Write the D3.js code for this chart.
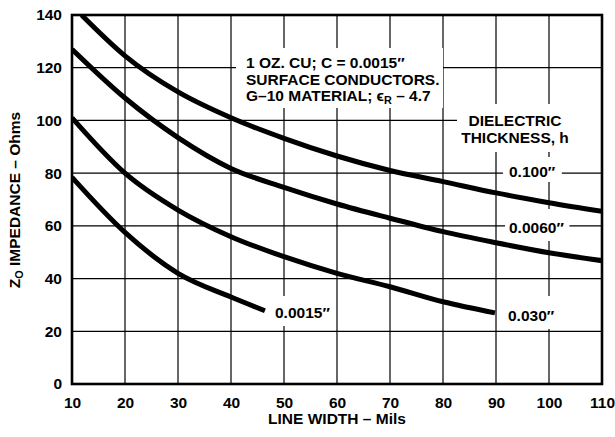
<!DOCTYPE html>
<html>
<head>
<meta charset="utf-8">
<script src="https://cdn.jsdelivr.net/npm/d3@7"></script>
<style>
  html, body { margin: 0; padding: 0; background: #fff; }
  svg { display: block; }
  text { font-family: "Liberation Sans", Arial, Helvetica, sans-serif; font-weight: bold; fill: #000; }
</style>
</head>
<body>
<svg id="chart" width="615" height="437"></svg>
<script>
// ---- data ----
const xTicks = [10, 20, 30, 40, 50, 60, 70, 80, 90, 100, 110];
const yTicks = [0, 20, 40, 60, 80, 100, 120, 140];

const h100X = [11.8, 20, 30, 40, 50, 60, 70, 80, 90, 100, 110];
const h100Y = [140, 124.5, 110.8, 101, 93.2, 86.5, 81, 76.8, 72.5, 68.8, 65.5];

const h0060X = [10, 20, 30, 40, 50, 60, 70, 80, 90, 100, 110];
const h0060Y = [127, 108.5, 93.5, 81.8, 74.6, 68.3, 62.9, 57.8, 53.6, 49.8, 46.8];

const h030X = [10, 20, 30, 40, 50, 60, 70, 80, 89.8];
const h030Y = [101, 80, 66, 55.9, 48.3, 42, 36.9, 31.2, 27];

const h0015X = [10, 20, 30, 40, 46.4];
const h0015Y = [78.4, 57.5, 42, 33, 27.8];

const seriesNames = ["0.100\u2033", "0.0060\u2033", "0.030\u2033", "0.0015\u2033"];

// ---- layout ----
(function () {
const svg = d3.select("#chart");
const pL = 72, pR = 602, pT = 15, pB = 384;
const x = d3.scaleLinear().domain([10, 110]).range([pL, pR]);
const y = d3.scaleLinear().domain([0, 140]).range([pB, pT]);
const FS = 15.5;
const LH = 16.5;

svg.append("clipPath").attr("id", "plotclip")
  .append("rect").attr("x", pL).attr("y", pT).attr("width", pR - pL).attr("height", pB - pT);

// gridlines
const grid = svg.append("g");
grid.selectAll("line.v").data(xTicks).join("line").attr("class", "v")
  .attr("x1", d => x(d)).attr("x2", d => x(d))
  .attr("y1", pT).attr("y2", pB)
  .attr("stroke", "#000").attr("stroke-width", 1.2);
grid.selectAll("line.h").data(yTicks).join("line").attr("class", "h")
  .attr("x1", pL).attr("x2", pR)
  .attr("y1", d => y(d)).attr("y2", d => y(d))
  .attr("stroke", "#000").attr("stroke-width", 1.2);

const boxes = svg.append("g");
const labels = svg.append("g");

function label(text, xPos, yPos, pad) {
  const t = labels.append("text").attr("font-size", FS)
    .attr("x", xPos).attr("y", yPos).text(text);
  const bb = t.node().getBBox();
  boxes.append("rect")
    .attr("x", bb.x - pad[3]).attr("y", bb.y - pad[0])
    .attr("width", bb.width + pad[1] + pad[3]).attr("height", bb.height + pad[0] + pad[2])
    .attr("fill", "#fff");
}

// main note
(function () {
  const g = labels.append("g").attr("font-size", FS);
  g.append("text").attr("x", 246).attr("y", 68).text("1 OZ. CU; C = 0.0015\u2033");
  g.append("text").attr("x", 246).attr("y", 68 + LH).text("SURFACE CONDUCTORS.");
  const t3 = g.append("text").attr("x", 246).attr("y", 68 + 2 * LH);
  t3.append("tspan").text("G\u201310 MATERIAL; \u03F5");
  t3.append("tspan").attr("font-size", FS * 0.7).attr("dy", 3).text("R");
  t3.append("tspan").attr("dy", -3).text(" \u2013 4.7");
  boxes.append("rect").attr("x", 236).attr("y", 48).attr("width", 207).attr("height", 60).attr("fill", "#fff");
})();

// dielectric heading
(function () {
  const g = labels.append("g").attr("font-size", FS).attr("text-anchor", "middle");
  g.append("text").attr("x", 515).attr("y", 126).text("DIELECTRIC");
  g.append("text").attr("x", 515).attr("y", 126 + LH).text("THICKNESS, h");
  boxes.append("rect").attr("x", 457).attr("y", 104).attr("width", pR - 457).attr("height", 48).attr("fill", "#fff");
})();

label(seriesNames[0], 509, 177, [6, 6, 2, 6]);
label(seriesNames[1], 509, 233, [10, 5, 5, 4]);
label(seriesNames[2], 508, 321, [11, 6, 5, 6]);
label(seriesNames[3], 275, 318, [8, 5, 5, 5]);

// curves
const lineGen = d3.line().x(d => x(d[0])).y(d => y(d[1])).curve(d3.curveMonotoneX);
const series = [
  d3.zip(h100X, h100Y),
  d3.zip(h0060X, h0060Y),
  d3.zip(h030X, h030Y),
  d3.zip(h0015X, h0015Y)
];
svg.append("g").attr("clip-path", "url(#plotclip)")
  .selectAll("path").data(series).join("path")
  .attr("d", lineGen)
  .attr("fill", "none").attr("stroke", "#000").attr("stroke-width", 5)
  .attr("stroke-linecap", "butt");

labels.raise();

// frame
svg.append("rect").attr("x", pL).attr("y", pT)
  .attr("width", pR - pL).attr("height", pB - pT)
  .attr("fill", "none").attr("stroke", "#000").attr("stroke-width", 2.6);

// axes tick labels via d3 axis
const xAxis = d3.axisBottom(x).tickValues(xTicks).tickSize(0).tickPadding(13).tickFormat(d3.format("d"));
const gx = svg.append("g").attr("transform", `translate(0,${pB})`).call(xAxis);
gx.select(".domain").remove();
gx.attr("font-family", null).attr("font-size", null);
gx.selectAll("text").attr("font-size", FS).attr("fill", "#000");

const yAxis = d3.axisLeft(y).tickValues(yTicks).tickSize(0).tickPadding(10).tickFormat(d3.format("d"));
const gy = svg.append("g").attr("transform", `translate(${pL},0)`).call(yAxis);
gy.select(".domain").remove();
gy.attr("font-family", null).attr("font-size", null);
gy.selectAll("text").attr("font-size", FS).attr("fill", "#000");

// axis titles
svg.append("text").attr("font-size", FS).attr("text-anchor", "middle")
  .attr("x", (pL + pR) / 2).attr("y", 424).text("LINE WIDTH \u2013 Mils");

const yt = svg.append("text").attr("font-size", FS).attr("text-anchor", "middle")
  .attr("transform", "translate(20,200) rotate(-90)");
yt.append("tspan").text("Z");
yt.append("tspan").attr("font-size", FS * 0.7).attr("dy", 3).text("O");
yt.append("tspan").attr("dy", -3).text(" IMPEDANCE \u2013 Ohms");
})();
</script>
</body>
</html>
